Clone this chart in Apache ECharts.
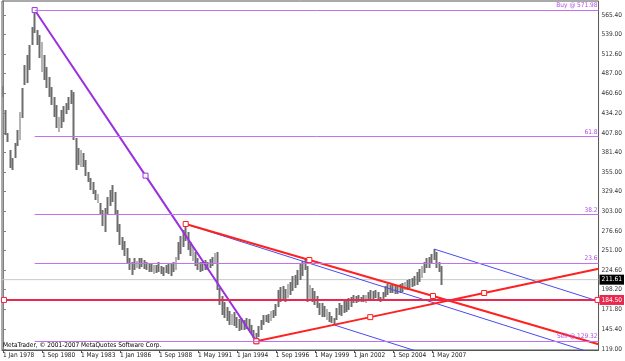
<!DOCTYPE html>
<html>
<head>
<meta charset="utf-8">
<script src="https://cdn.jsdelivr.net/npm/echarts@6/dist/echarts.min.js"></script>
<style>
html, body { margin: 0; padding: 0; background: #fff; }
#chart { width: 625px; height: 361px; }
</style>
</head>
<body>
<div id="chart"></div>
<script>
// bars every 2 months from Jan 1978 (bar i sits at month index 2 * i)
const highs = [
  470.5, 438.4, 407.6, 385.0, 374.2, 394.3, 411.7, 435.7, 467.8, 498.5,
  511.9, 525.3, 549.3, 571.98, 545.3, 538.6, 529.3, 511.9, 495.9, 482.5,
  469.1, 455.8, 445.1, 429.0, 438.4, 443.7, 447.7, 455.8, 465.2, 462.4,
  401.0, 387.6, 385.0, 380.9, 371.6, 355.5, 347.5, 342.2, 331.5, 326.1,
  314.1, 304.8, 307.4, 322.1, 331.5, 338.1, 328.8, 304.8, 286.0, 268.6,
  263.3, 253.9, 240.6, 235.2, 240.6, 236.6, 240.6, 240.6, 237.9, 235.2,
  232.6, 233.9, 231.2, 231.2, 235.2, 229.9, 228.5, 231.2, 232.6, 232.6,
  235.2, 241.9, 261.9, 270.0, 278.0, 286.0, 275.3, 261.9, 256.6, 248.6,
  240.6, 235.2, 235.2, 237.9, 235.2, 239.2, 241.9, 247.3, 248.6, 200.5,
  189.8, 181.8, 175.1, 169.8, 165.7, 168.4, 161.7, 159.1, 160.4, 157.7,
  160.4, 159.1, 151.1, 144.4, 140.3, 149.7, 157.7, 164.4, 164.4, 165.7,
  169.8, 171.1, 179.1, 197.8, 201.8, 203.2, 199.1, 205.8, 208.5, 216.5,
  217.9, 224.6, 232.6, 236.6, 240.6, 229.9, 204.5, 200.5, 196.5, 189.8,
  180.4, 180.4, 176.4, 172.4, 168.4, 163.1, 160.4, 173.8, 180.4, 177.8,
  183.1, 183.1, 187.1, 188.5, 191.1, 189.8, 191.1, 188.5, 191.1, 191.1,
  195.1, 197.8, 196.5, 197.8, 195.1, 188.5, 195.1, 203.2, 205.8, 204.5,
  205.8, 204.5, 204.5, 205.8, 207.2, 208.5, 211.2, 212.5, 213.8, 216.5,
  221.9, 225.9, 229.9, 235.2, 240.6, 241.9, 245.9, 252.5, 248.6, 235.2,
  229.9
];
const lows = [
  455.8, 405.0, 395.6, 360.9, 358.2, 374.2, 390.3, 398.3, 427.7, 471.8,
  474.5, 491.8, 525.3, 541.3, 525.3, 507.9, 489.2, 478.5, 467.8, 455.8,
  445.1, 429.0, 414.3, 409.0, 414.3, 422.3, 433.0, 438.4, 446.4, 398.3,
  358.2, 364.9, 362.2, 362.2, 350.2, 342.1, 331.5, 326.1, 318.1, 314.1,
  298.1, 283.4, 275.3, 298.1, 310.1, 315.4, 299.4, 275.3, 258.0, 251.3,
  243.3, 233.9, 224.6, 217.9, 224.6, 227.2, 225.9, 228.5, 225.9, 224.6,
  221.9, 221.9, 219.2, 220.5, 221.9, 219.2, 216.5, 220.5, 219.2, 216.5,
  221.9, 224.6, 237.9, 245.9, 255.3, 263.3, 251.3, 243.3, 236.6, 229.9,
  224.6, 221.9, 223.2, 224.6, 224.6, 227.2, 229.9, 232.6, 197.8, 177.8,
  164.4, 160.4, 156.4, 151.1, 151.1, 149.7, 147.0, 143.0, 144.4, 144.4,
  145.7, 143.0, 140.3, 133.7, 129.32, 135.0, 144.4, 151.1, 155.0, 153.7,
  156.4, 160.4, 163.1, 175.1, 181.8, 184.5, 181.8, 187.1, 191.1, 196.5,
  200.5, 204.5, 211.2, 216.5, 224.6, 181.8, 184.5, 181.8, 177.8, 173.8,
  164.4, 161.7, 161.7, 157.7, 155.0, 153.7, 151.1, 157.7, 164.4, 163.1,
  167.1, 168.4, 171.1, 175.1, 180.4, 180.4, 181.8, 181.8, 181.8, 180.4,
  184.5, 185.8, 184.5, 187.1, 184.5, 181.8, 184.5, 188.5, 191.1, 193.8,
  193.8, 192.5, 192.5, 193.8, 195.1, 197.8, 197.8, 200.5, 201.8, 203.2,
  204.5, 208.5, 213.8, 220.5, 227.2, 227.2, 232.6, 237.9, 227.2, 221.9,
  204.5
];

// axis ticks: months since Jan 1978, and price labels
const xTicks = [0, 32, 64, 96, 128, 160, 192, 224, 256, 288, 320, 352];
const monthNames = ['Jan', 'Feb', 'Mar', 'Apr', 'May', 'Jun', 'Jul', 'Aug', 'Sep', 'Oct', 'Nov', 'Dec'];
const yTicks = [119.00, 145.40, 171.80, 198.20, 224.60, 251.00, 276.60, 303.00, 329.40,
  355.00, 381.40, 407.80, 434.20, 460.60, 487.00, 512.60, 539.00, 565.40];

// drawing objects, points are [month index, price]
const fibHigh = [26, 571.98];
const fibLow = [208, 129.32];
const fibRatios = [1, 0.618, 0.382, 0.236, 0];
const fibNames = ['Buy @ 571.98', '61.8', '38.2', '23.6', 'Sell @ 129.32'];
const redUpper = [[150, 286.0], [353, 189.8]];
const redLower = [[208, 129.32], [395, 193.8]];
const forkA = [150, 286.0];
const forkB = [354, 252.5];
const forkC = [272, 151.0];
const levelLine = 184.50;
const bidPrice = 211.61;

const X_MIN = -0.8, X_MAX = 488.9;
const Y_MIN = 117.6, Y_MAX = 584.1;
const FONT = "'DejaVu Sans Condensed', 'DejaVu Sans', sans-serif";
const FS = 6.5;

const candles = highs.map((h, i) => [2 * i, lows[i], h, lows[i], h]);

const mid = (p, q) => [(p[0] + q[0]) / 2, (p[1] + q[1]) / 2];
// extend the line through p -> q up to the right edge
const rayTo = (p, q) => {
  const k = (q[1] - p[1]) / (q[0] - p[0]);
  return [X_MAX, q[1] + k * (X_MAX - q[0])];
};
const dirRay = (start, p, q) => {
  const k = (q[1] - p[1]) / (q[0] - p[0]);
  return [[start[0], start[1]], [X_MAX, start[1] + k * (X_MAX - start[0])]];
};

const mark = (v) => ({ value: v, symbol: 'rect' });
const noMark = (v) => ({ value: v, symbol: 'none' });

const trendSeries = (pts, color, ray) => {
  const data = [mark(pts[0]), mark(mid(pts[0], pts[1])), mark(pts[1])];
  if (ray) data.push(noMark(rayTo(pts[0], pts[1])));
  return {
    type: 'line',
    data,
    symbolSize: 5,
    lineStyle: { color, width: 2 },
    itemStyle: { color: '#fff', borderColor: color, borderWidth: 1 },
    emphasis: { disabled: true },
    z: 4
  };
};

const fibSpan = fibHigh[1] - fibLow[1];
const fibLines = fibRatios.map((r, i) => {
  const v = fibLow[1] + r * fibSpan;
  return [
    { coord: [fibHigh[0], v], label: { formatter: fibNames[i] } },
    { coord: [X_MAX, v] }
  ];
});

const forkMid = mid(forkB, forkC);
const forkLines = [
  dirRay(forkA, forkA, forkMid),
  dirRay(forkB, forkA, forkMid),
  dirRay(forkC, forkA, forkMid)
];

const chart = echarts.init(document.getElementById('chart'));
chart.setOption({
  animation: false,
  backgroundColor: '#ffffff',
  grid: {
    left: 1, right: 24, top: 1, bottom: 11,
    show: true, borderColor: '#555', borderWidth: 1
  },
  xAxis: {
    type: 'value',
    min: X_MIN,
    max: X_MAX,
    axisLine: { show: true, lineStyle: { color: '#555' } },
    axisTick: { show: true, customValues: xTicks, length: 3, lineStyle: { color: '#555' } },
    axisLabel: {
      customValues: xTicks,
      formatter: (m) => '1 ' + monthNames[m % 12] + ' ' + (1978 + Math.floor(m / 12)),
      align: 'left',
      margin: 2,
      hideOverlap: false,
      fontSize: FS,
      color: '#222',
      fontFamily: FONT
    },
    splitLine: { show: false }
  },
  yAxis: {
    type: 'value',
    position: 'right',
    min: Y_MIN,
    max: Y_MAX,
    axisLine: { show: true, lineStyle: { color: '#808080' } },
    axisTick: { show: true, customValues: yTicks, length: 3, lineStyle: { color: '#808080' } },
    axisLabel: {
      customValues: yTicks,
      formatter: (v) => v.toFixed(2),
      margin: 3,
      fontSize: FS,
      color: '#333',
      fontFamily: FONT
    },
    splitLine: { show: false }
  },
  series: [
    {
      // bid line
      type: 'line',
      data: [[X_MIN, bidPrice], [X_MAX, bidPrice]],
      symbol: 'none',
      lineStyle: { color: '#c8c8c8', width: 1 },
      endLabel: {
        show: true, formatter: bidPrice.toFixed(2), distance: 1,
        backgroundColor: '#000', color: '#fff', fontSize: FS, fontFamily: FONT,
        padding: [2, 2, 1, 2]
      },
      emphasis: { disabled: true },
      z: 1
    },
    {
      type: 'candlestick',
      data: candles,
      encode: { x: 0, y: [1, 2, 3, 4] },
      barWidth: 2.4,
      itemStyle: {
        color: '#6c6c6c', color0: '#6c6c6c',
        borderColor: '#6c6c6c', borderColor0: '#6c6c6c', borderWidth: 0
      },
      emphasis: { disabled: true },
      z: 2
    },
    // pitchfork
    ...forkLines.map((pts) => ({
      type: 'line',
      data: pts,
      symbol: 'none',
      lineStyle: { color: '#4a4af0', width: 1 },
      emphasis: { disabled: true },
      z: 3
    })),
    {
      // fibonacci retracement
      type: 'line',
      data: [mark(fibHigh), mark(mid(fibHigh, fibLow)), mark(fibLow)],
      symbolSize: 5,
      lineStyle: { color: '#9b30e0', width: 2 },
      itemStyle: { color: '#fff', borderColor: '#9b30e0', borderWidth: 1 },
      emphasis: { disabled: true },
      markLine: {
        silent: true,
        symbol: ['none', 'none'],
        lineStyle: { color: '#c070f0', width: 1, type: 'solid' },
        label: {
          position: 'insideEndTop', distance: 1,
          color: '#b04ce8', fontSize: FS, fontFamily: FONT
        },
        data: fibLines
      },
      z: 3
    },
    trendSeries(redUpper, '#ff2020', true),
    trendSeries(redLower, '#ff2020', true),
    {
      // horizontal level
      type: 'line',
      data: [mark([0.8, levelLine]), mark([488.1, levelLine])],
      symbolSize: 5,
      lineStyle: { color: '#e8284c', width: 2 },
      itemStyle: { color: '#fff', borderColor: '#e8284c', borderWidth: 1 },
      endLabel: {
        show: true, formatter: levelLine.toFixed(2), distance: 2,
        backgroundColor: '#e8284c', color: '#fff', fontSize: FS, fontFamily: FONT,
        padding: [2, 2, 1, 2]
      },
      emphasis: { disabled: true },
      z: 4
    }
  ],
  graphic: [{
    type: 'text',
    left: 3,
    top: 342,
    style: {
      text: 'MetaTrader, © 2001-2007 MetaQuotes Software Corp.',
      fontSize: FS,
      fill: '#000',
      fontFamily: FONT
    },
    z: 10
  }]
});
</script>
</body>
</html>
